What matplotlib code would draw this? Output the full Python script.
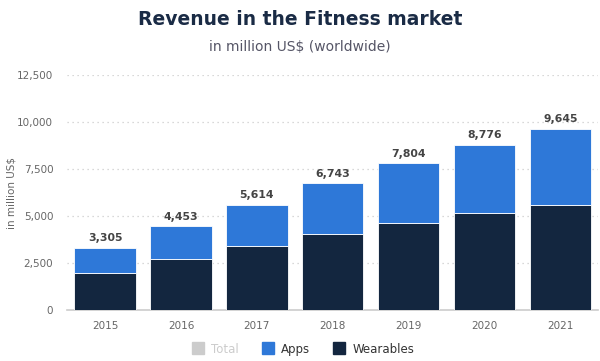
import numpy as np
import matplotlib.pyplot as plt
from matplotlib.lines import Line2D

years = ["2015", "2016", "2017", "2018", "2019", "2020", "2021"]
totals = [3305, 4453, 5614, 6743, 7804, 8776, 9645]
wearables = [1965, 2695, 3400, 4040, 4610, 5140, 5600]
apps = [t - w for t, w in zip(totals, wearables)]

navy = "#13263f"
blue = "#2e78d8"

fig = plt.figure(figsize=(6, 3.61), dpi=100)
ax = fig.add_axes([0.112, 0.141, 0.885, 0.651])

x = np.arange(len(years))
ax.bar(x, wearables, width=0.81, color=navy, edgecolor="white", linewidth=0.6, zorder=3)
ax.bar(x, apps, width=0.81, bottom=wearables, color=blue, edgecolor="white", linewidth=0.6, zorder=3)

for xi, t in zip(x, totals):
    ax.text(xi, t + 250, f"{t:,}", ha="center", va="bottom", fontsize=7.8,
            fontweight="bold", color="#444444")

ax.set_xlim(-0.5, 6.5)
ax.set_ylim(0, 12500)
ax.set_yticks([0, 2500, 5000, 7500, 10000, 12500])
ax.set_yticklabels(["0", "2,500", "5,000", "7,500", "10,000", "12,500"])
ax.set_xticks(x)
ax.set_xticklabels(years)
ax.tick_params(axis="both", length=0, labelsize=7.5, colors="#666666")
ax.tick_params(axis="y", pad=10)
ax.tick_params(axis="x", pad=8)

for v in [2500, 5000, 7500, 10000, 12500]:
    ax.axhline(v, color="#cccccc", linestyle=(0, (1, 3)), linewidth=0.9, zorder=1)

for s in ["top", "right", "left"]:
    ax.spines[s].set_visible(False)
ax.spines["bottom"].set_color("#cccccc")
ax.spines["bottom"].set_linewidth(1.2)

ax.set_ylabel("in million US$", fontsize=7.5, color="#666666")
ax.yaxis.set_label_coords(-0.095, 0.5)

fig.text(0.5, 0.945, "Revenue in the Fitness market", ha="center", va="center",
         fontsize=13.5, fontweight="bold", color="#1a2b45")
fig.text(0.5, 0.87, "in million US$ (worldwide)", ha="center", va="center",
         fontsize=10, color="#555566")

handles = [
    Line2D([], [], marker="s", linestyle="", markersize=9, color="#cccccc"),
    Line2D([], [], marker="s", linestyle="", markersize=9, color=blue),
    Line2D([], [], marker="s", linestyle="", markersize=9, color=navy),
]
leg = fig.legend(handles, ["Total", "Apps", "Wearables"], loc="center",
                 bbox_to_anchor=(0.5, 0.033), ncol=3, frameon=False, fontsize=8.5,
                 handletextpad=0.1, columnspacing=1.5)
for txt, c in zip(leg.get_texts(), ["#cccccc", "#333333", "#333333"]):
    txt.set_color(c)

fig.savefig("out.png", dpi=100)
